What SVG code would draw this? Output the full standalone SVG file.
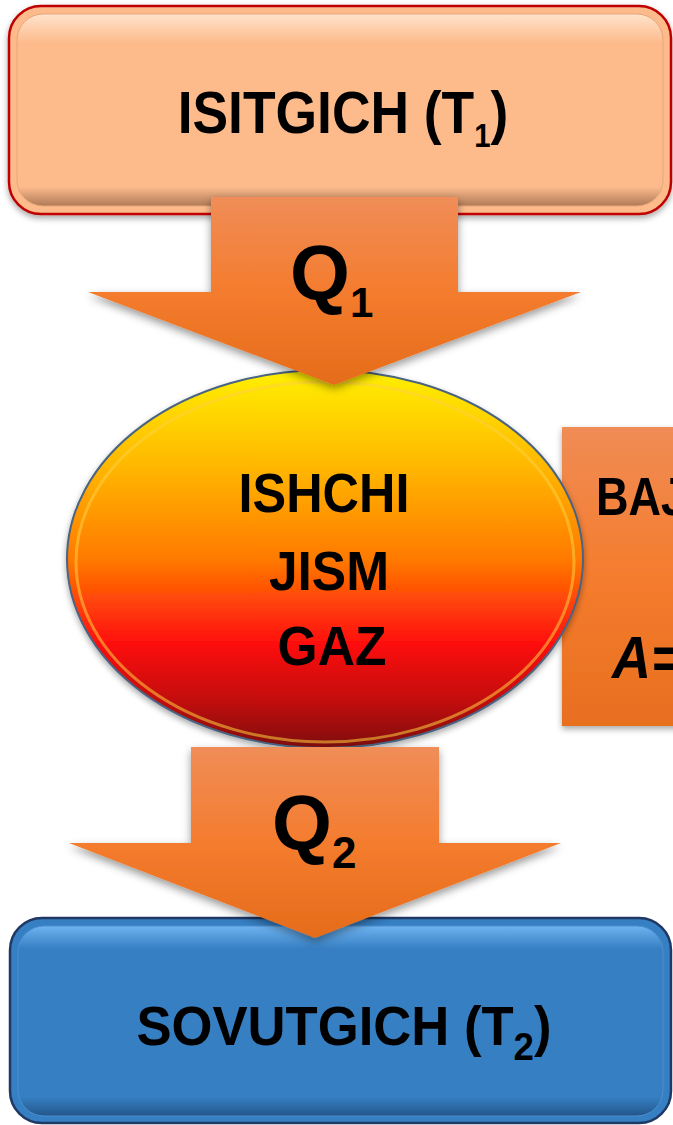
<svg xmlns="http://www.w3.org/2000/svg" width="673" height="1125" viewBox="0 0 673 1125">
<defs>
<style>
text{font-family:"Liberation Sans",Arial,sans-serif;font-weight:bold;fill:#000}
.arrow{fill:url(#gArrow);filter:url(#shadow)}
</style>
<linearGradient id="gArrow" x1="0" y1="0" x2="0" y2="1">
<stop offset="0" stop-color="#F08D58"/>
<stop offset="0.5" stop-color="#F47C2E"/>
<stop offset="1" stop-color="#E56C1A"/>
</linearGradient>
<linearGradient id="gBox" x1="0" y1="0" x2="0" y2="1">
<stop offset="0" stop-color="#F08C55"/>
<stop offset="0.5" stop-color="#F47C2E"/>
<stop offset="1" stop-color="#E86F1F"/>
</linearGradient>
<linearGradient id="gEll" x1="0" y1="0" x2="0" y2="1">
<stop offset="0" stop-color="#FFF000"/>
<stop offset="0.25" stop-color="#FFB800"/>
<stop offset="0.5" stop-color="#FF7A00"/>
<stop offset="0.72" stop-color="#FF1010"/>
<stop offset="0.88" stop-color="#C00A0A"/>
<stop offset="1" stop-color="#7E0808"/>
</linearGradient>
<linearGradient id="gTopHi" x1="0" y1="0" x2="0" y2="1">
<stop offset="0" stop-color="#FFE3CC"/>
<stop offset="0.15" stop-color="#FDBB8C"/>
<stop offset="0.9" stop-color="#FDBB8C"/>
<stop offset="1" stop-color="#B07A58"/>
</linearGradient>
<linearGradient id="gBotHi" x1="0" y1="0" x2="0" y2="1">
<stop offset="0" stop-color="#6FB3F0"/>
<stop offset="0.12" stop-color="#367FC3"/>
<stop offset="0.9" stop-color="#367FC3"/>
<stop offset="1" stop-color="#23568A"/>
</linearGradient>
<filter id="shadow" x="-20%" y="-20%" width="140%" height="150%">
<feDropShadow dx="0" dy="4" stdDeviation="4" flood-color="#000" flood-opacity="0.4"/>
</filter>
<filter id="shadowS" x="-10%" y="-10%" width="120%" height="130%">
<feDropShadow dx="0" dy="3" stdDeviation="3" flood-color="#000" flood-opacity="0.35"/>
</filter>
</defs>
<rect width="673" height="1125" fill="#FFFFFF"/>

<g id="node-isitgich">
<rect x="9" y="6" width="662" height="208" rx="32" fill="#FDBB8C" stroke="#C00000" stroke-width="2.5" filter="url(#shadowS)"/>
<rect x="17" y="14" width="646" height="192" rx="26" fill="url(#gTopHi)" stroke="#E8A57A" stroke-width="1"/>
<text x="343" y="133" text-anchor="middle" font-size="60" transform="translate(343 0) scale(0.89 1) translate(-343 0)">ISITGICH (T<tspan font-size="33" dy="14">1</tspan><tspan dy="-14">)</tspan></text>
</g>

<g id="node-bajarilgan-ish">
<rect x="562" y="427" width="140" height="299" fill="url(#gBox)" filter="url(#shadowS)"/>
<text x="596" y="515" font-size="53" transform="translate(596 0) scale(0.85 1) translate(-596 0)">BAJ</text>
<text x="612" y="678" font-size="60" font-style="italic" transform="translate(612 0) scale(0.9 1) translate(-612 0)">A=</text>
</g>

<g id="node-ishchi-jism">
<ellipse cx="325" cy="559" rx="258" ry="189" fill="url(#gEll)" stroke="#4A6480" stroke-width="2" filter="url(#shadowS)"/>
<ellipse cx="325" cy="562" rx="249" ry="180" fill="none" stroke="#FFD040" stroke-opacity="0.55" stroke-width="3"/>
<text x="324" y="512" text-anchor="middle" font-size="56" transform="translate(324 0) scale(0.9 1) translate(-324 0)">ISHCHI</text>
<text x="329" y="590" text-anchor="middle" font-size="56" transform="translate(329 0) scale(0.92 1) translate(-329 0)">JISM</text>
<text x="332" y="665" text-anchor="middle" font-size="56" transform="translate(332 0) scale(0.92 1) translate(-332 0)">GAZ</text>
</g>

<g id="node-sovutgich">
<rect x="10" y="918" width="661" height="205" rx="32" fill="#367FC3" stroke="#1F3864" stroke-width="2.5"/>
<rect x="18" y="926" width="645" height="190" rx="26" fill="url(#gBotHi)" stroke="#4A90D0" stroke-width="1"/>
<text x="344" y="1045" text-anchor="middle" font-size="56" transform="translate(344 0) scale(0.94 1) translate(-344 0)">SOVUTGICH (T<tspan font-size="39" dy="15">2</tspan><tspan dy="-15">)</tspan></text>
</g>

<g id="connectors">
<g id="arrow-q1">
<polygon class="arrow" points="211,197 458,197 458,292 581,292 334,385 88,292 211,292"/>
<text x="290" y="300" font-size="77">Q<tspan font-size="42" dy="17">1</tspan></text>
</g>
<g id="arrow-q2">
<polygon class="arrow" points="191,747 439,747 439,843 561,843 315,938 69,843 191,843"/>
<text x="272" y="850" font-size="77">Q<tspan font-size="44" dy="18">2</tspan></text>
</g>
</g>
</svg>
